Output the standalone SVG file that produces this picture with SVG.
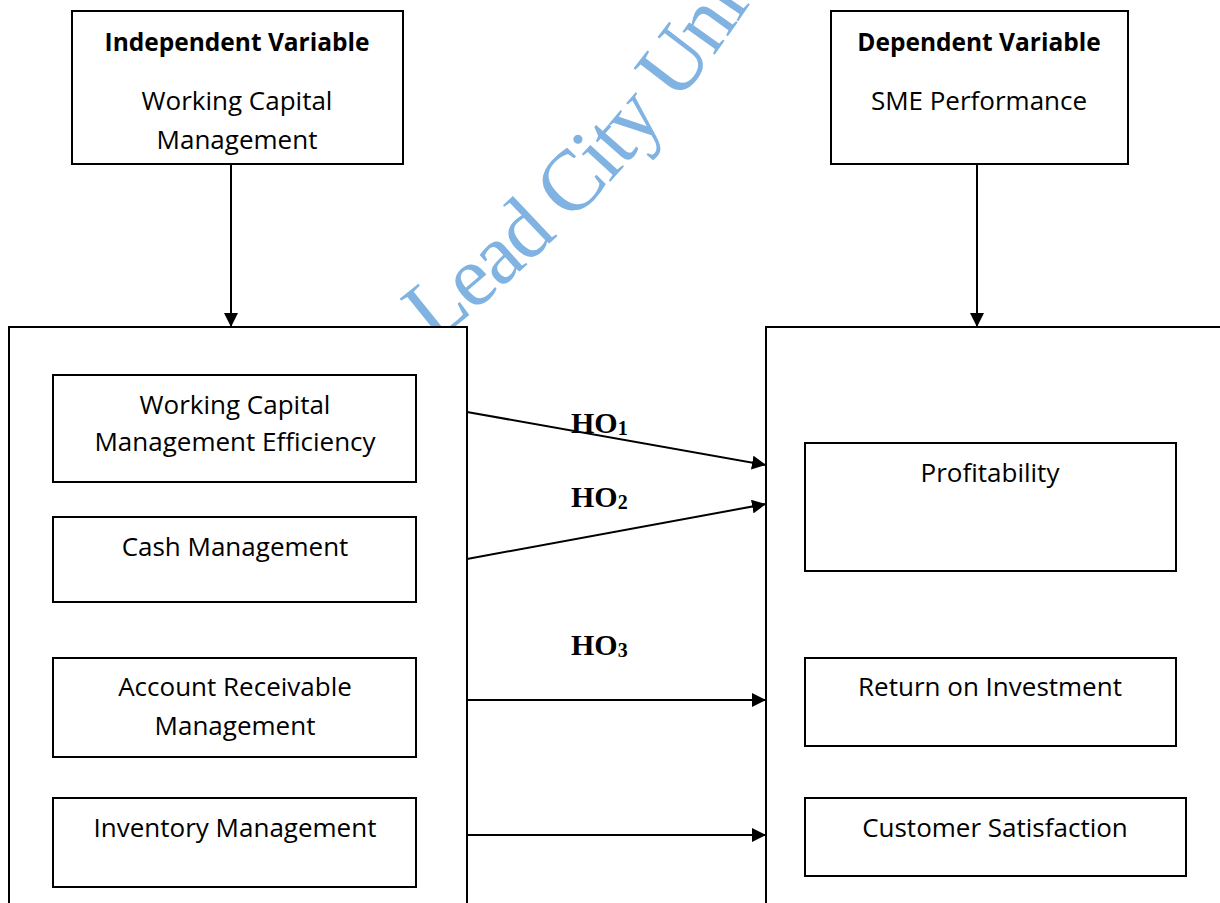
<svg xmlns="http://www.w3.org/2000/svg" width="1220" height="903" viewBox="0 0 1220 903">
  <style>
    .box { fill: none; stroke: #000; stroke-width: 2; }
    .lbl { font-family: "Open Sans", Lato, "Liberation Sans", sans-serif; font-size: 26px; fill: #000; text-anchor: middle; }
    .hd { font-weight: bold; font-size: 24.5px; }
    .hyp { font-family: "Liberation Serif", serif; font-weight: bold; font-size: 30px; fill: #000; }
    .wire { stroke: #000; stroke-width: 2; fill: none; marker-end: url(#arrow); }
    .mark { font-family: "Liberation Serif", serif; font-size: 86px; letter-spacing: -2px; fill: #80B3E1; }
  </style>
  <defs>
    <marker id="arrow" viewBox="0 0 10 10" refX="10" refY="5" markerWidth="7" markerHeight="7" markerUnits="strokeWidth" orient="auto">
      <path d="M0,0 L10,5 L0,10 z" fill="#000"/>
    </marker>
    <!-- gentle arc carrying the watermark lettering -->
    <path id="markArc" d="M433,344 A1450,1450 0 0,0 801,-78"/>
  </defs>
  <rect width="1220" height="903" fill="#fff"/>

  <!-- watermark -->
  <text class="mark"><textPath href="#markArc">Lead City Uni</textPath></text>

  <g id="independent-variable">
    <rect class="box" x="72" y="11" width="331" height="153"/>
    <text class="lbl hd" x="237" y="51">Independent Variable</text>
    <text class="lbl" x="237" y="110">Working Capital</text>
    <text class="lbl" x="237" y="149">Management</text>
  </g>

  <g id="dependent-variable">
    <rect class="box" x="831" y="11" width="297" height="153"/>
    <text class="lbl hd" x="979" y="51">Dependent Variable</text>
    <text class="lbl" x="979" y="110">SME Performance</text>
  </g>

  <g id="wcm-components">
    <rect x="9" y="327" width="458" height="590" fill="#fff" stroke="#000" stroke-width="2"/>
  </g>

  <g id="wcm-efficiency">
    <rect class="box" x="53" y="375" width="363" height="107"/>
    <text class="lbl" x="235" y="414">Working Capital</text>
    <text class="lbl" x="235" y="451">Management Efficiency</text>
  </g>

  <g id="cash-management">
    <rect class="box" x="53" y="517" width="363" height="85"/>
    <text class="lbl" x="235" y="556">Cash Management</text>
  </g>

  <g id="receivable-management">
    <rect class="box" x="53" y="658" width="363" height="99"/>
    <text class="lbl" x="235" y="696">Account Receivable</text>
    <text class="lbl" x="235" y="735">Management</text>
  </g>

  <g id="inventory-management">
    <rect class="box" x="53" y="798" width="363" height="89"/>
    <text class="lbl" x="235" y="837">Inventory Management</text>
  </g>

  <g id="sme-outcomes">
    <rect class="box" x="766" y="327" width="470" height="590"/>
  </g>

  <g id="profitability">
    <rect class="box" x="805" y="443" width="371" height="128"/>
    <text class="lbl" x="990" y="482">Profitability</text>
  </g>

  <g id="return-on-investment">
    <rect class="box" x="805" y="658" width="371" height="88"/>
    <text class="lbl" x="990" y="696">Return on Investment</text>
  </g>

  <g id="customer-satisfaction">
    <rect class="box" x="805" y="798" width="381" height="78"/>
    <text class="lbl" x="995" y="837">Customer Satisfaction</text>
  </g>

  <g id="connectors">
    <line class="wire" x1="231" y1="164" x2="231" y2="327"/>
    <line class="wire" x1="977" y1="164" x2="977" y2="327"/>
    <line class="wire" x1="467" y1="412" x2="766" y2="465"/>
    <line class="wire" x1="467" y1="559" x2="766" y2="504"/>
    <line class="wire" x1="467" y1="700" x2="766" y2="700"/>
    <line class="wire" x1="467" y1="835" x2="766" y2="835"/>
    <text class="hyp" x="571" y="433">HO<tspan font-size="20" dy="2">1</tspan></text>
    <text class="hyp" x="571" y="507">HO<tspan font-size="20" dy="2">2</tspan></text>
    <text class="hyp" x="571" y="655">HO<tspan font-size="20" dy="2">3</tspan></text>
  </g>
</svg>
